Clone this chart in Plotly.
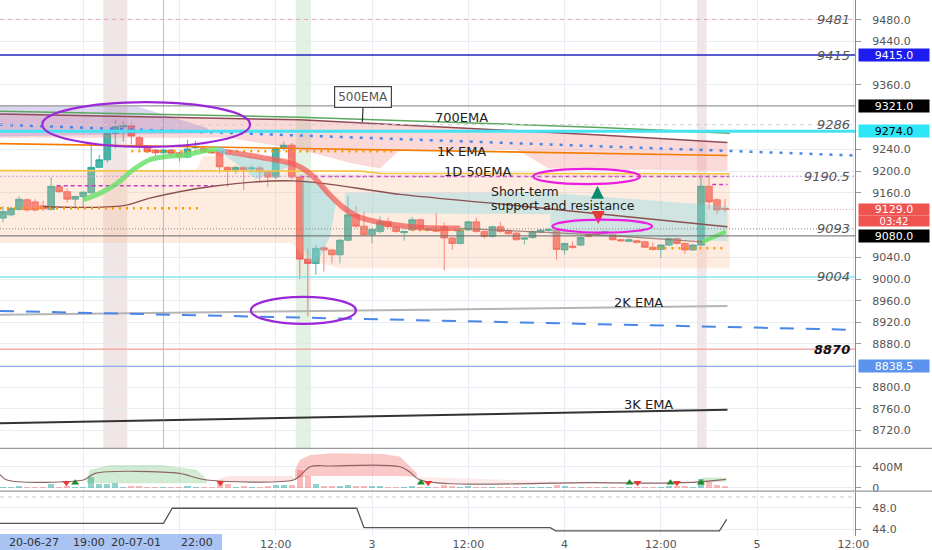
import pandas as pd
import plotly.graph_objects as go

# ---------------- data ----------------
first_bar = "2020-07-01 02:00"          # hourly BTC candles
bar_open = [9113, 9119, 9129, 9147, 9143, 9136, 9129, 9171, 9162, 9148, 9153, 9160, 9207, 9221, 9270, 9282,
            9284, 9262, 9246, 9239, 9234, 9239, 9234, 9226, 9243, 9242, 9236, 9236, 9207, 9202, 9207, 9204,
            9206, 9199, 9189, 9242, 9248, 9189, 9037, 9029, 9058, 9054, 9045, 9072, 9119, 9098, 9082, 9088,
            9106, 9096, 9086, 9091, 9110, 9091, 9091, 9097, 9076, 9066, 9091, 9106, 9088, 9079, 9097, 9090,
            9085, 9074, 9077, 9087, 9090, 9091, 9054, 9061, 9063, 9083, 9086, 9085, 9082, 9073, 9070, 9071,
            9069, 9059, 9055, 9063, 9075, 9066, 9054, 9063, 9172, 9147, 9131]
bar_high = [9135, 9135, 9153, 9150, 9148, 9145, 9189, 9174, 9168, 9155, 9162, 9252, 9230, 9276, 9295, 9292,
            9290, 9265, 9248, 9241, 9241, 9241, 9236, 9258, 9256, 9245, 9238, 9238, 9209, 9210, 9209, 9212,
            9210, 9201, 9245, 9255, 9252, 9190, 9057, 9063, 9062, 9056, 9074, 9154, 9135, 9125, 9095, 9116,
            9114, 9098, 9090, 9115, 9112, 9095, 9122, 9105, 9078, 9093, 9108, 9114, 9090, 9099, 9106, 9092,
            9087, 9078, 9090, 9093, 9094, 9093, 9068, 9070, 9079, 9086, 9088, 9090, 9084, 9075, 9076, 9073,
            9071, 9068, 9065, 9077, 9077, 9068, 9065, 9193, 9193, 9149, 9148]
bar_low = [9105, 9116, 9127, 9125, 9125, 9126, 9127, 9160, 9142, 9130, 9131, 9158, 9205, 9216, 9242, 9255,
           9250, 9240, 9233, 9227, 9232, 9226, 9218, 9224, 9241, 9234, 9232, 9196, 9171, 9195, 9165, 9198,
           9181, 9171, 9185, 9238, 9185, 9000, 8931, 9008, 9014, 9029, 9029, 9070, 9095, 9080, 9066, 9085,
           9095, 9086, 9071, 9089, 9092, 9089, 9087, 9016, 9054, 9064, 9089, 9086, 9075, 9077, 9086, 9082,
           9071, 9064, 9075, 9085, 9088, 9036, 9045, 9056, 9061, 9077, 9081, 9083, 9071, 9069, 9068, 9066,
           9057, 9053, 9039, 9061, 9064, 9047, 9052, 9061, 9129, 9120, 9124]
bar_close = [9125, 9131, 9148, 9128, 9128, 9130, 9172, 9162, 9148, 9153, 9161, 9207, 9221, 9270, 9282, 9285,
             9265, 9246, 9236, 9234, 9239, 9233, 9227, 9241, 9246, 9236, 9234, 9208, 9202, 9207, 9203, 9206,
             9199, 9189, 9242, 9248, 9189, 9037, 9029, 9057, 9054, 9045, 9072, 9119, 9098, 9082, 9092, 9106,
             9097, 9088, 9088, 9110, 9094, 9093, 9089, 9076, 9066, 9091, 9106, 9088, 9079, 9097, 9088, 9084,
             9073, 9076, 9088, 9091, 9092, 9055, 9066, 9059, 9077, 9079, 9083, 9088, 9073, 9071, 9073, 9068,
             9059, 9055, 9063, 9075, 9066, 9054, 9063, 9172, 9143, 9128, 9129]
volume_m = [30, 25, 40, 30, 25, 30, 80, 30, 35, 25, 30, 213, 76, 76, 95, 30, 40, 35, 30, 25, 30, 25, 30, 40,
            30, 25, 20, 95, 85, 30, 40, 25, 30, 35, 70, 60, 60, 350, 223, 84, 45, 40, 45, 60, 50, 40, 35, 40,
            30, 25, 30, 35, 30, 20, 30, 60, 40, 30, 35, 30, 25, 30, 25, 20, 30, 20, 25, 20, 20, 60, 35, 25,
            30, 25, 20, 25, 30, 20, 20, 25, 30, 25, 30, 40, 35, 40, 30, 180, 110, 60, 40]

last_price = 9129.0
countdown = "03:42"

# horizontal levels drawn on the chart
level_prices = [9481, 9415, 9321, 9286, 9274, 9190.5, 9093, 9080, 9004, 8870, 8838.5]
level_text = ["9481", "9415", "", "9286", "", "9190.5", "9093", "", "9004", "8870", ""]
tag_prices = [9415.0, 9321.0, 9274.0, 9080.0, 8838.5]
axis_ticks = [9480, 9440, 9360, 9240, 9200, 9160, 9040, 9000, 8960, 8920, 8880, 8800, 8760, 8720]

# moving averages / trend lines: hours after the first bar, price
ema700_h = [-0.37, 37, 74.4, 90.6];        ema700_p = [9311, 9300, 9281, 9270]
ema500_h = [-0.37, 37, 74.4, 90.3];        ema500_p = [9306, 9295, 9267, 9253]
ema1k_h = [-0.37, 90.3];                   ema1k_p = [9251, 9229]
ema2k_h = [-0.37, 90.3];                   ema2k_p = [8934, 8950]
ema3k_h = [-0.37, 90.3];                   ema3k_p = [8733, 8758]
d1ema50_h = [-0.37, 44.5, 47, 90.6];       d1ema50_p = [9201, 9200, 9196, 9195]
trend_hi_h = [-0.37, 106.2];               trend_hi_p = [9286, 9229]
trend_lo_h = [-0.37, 106.2];               trend_lo_p = [8941, 8906]
slow_ma_h = [5, 15, 18.3, 26.2, 36.2, 49.5, 62, 90.3]
slow_ma_p = [9134, 9136, 9150, 9172, 9182, 9157, 9139, 9097]

rib_up1_h = [10, 12.1, 14.2, 16.2, 18.3, 20.4, 22.9, 24.6, 26.7]
rib_up1_p = [9147, 9159, 9177, 9202, 9221, 9227, 9230, 9236, 9241]
rib_mid_h = [26.7, 27.7]; rib_mid_p = [9241, 9236]
rib_dn_h = [27.7, 32, 36.4, 38.3, 39.3, 40.8, 42.3, 43.9, 45.4, 50.7, 57]
rib_dn_p = [9236, 9226, 9212, 9195, 9180, 9155, 9134, 9118, 9110, 9097, 9094]
rib_flat_h = [57, 68.2, 74.4, 87.2]; rib_flat_p = [9094, 9086, 9082, 9069]
rib_up2_h = [87.2, 88.7, 90.1]; rib_up2_p = [9069, 9078, 9088]

# dotted step levels
step_orange = [([-0.37, 24.6], 9131), ([16, 49], 9237), ([51, 58], 9091), ([80.7, 90.3], 9057)]
step_magenta = [([6.7, 26.2], 9173), ([37, 90.6], 9190), ([88.4, 90.3], 9175)]

# shaded zones (hours, price)
zone_peach_h = [-0.37, 24, 25, 36, 37, 90.6, 90.6, 42, 38, 36, -0.37]
zone_peach_p = [9198, 9200, 9228, 9225, 9195, 9195, 9020, 9020, 9035, 9067, 9067]
zone_pink_h = [-0.37, 37, 74.4, 90.3, 90.3, 68, 64, 49.5, 47, 43.3, 37, 28, -0.37]
zone_pink_p = [9306, 9295, 9267, 9253, 9200, 9205, 9240, 9240, 9205, 9215, 9240, 9262, 9262]
zone_lav_h = [-0.37, 16.6, 25.5, 25.5, -0.37]
zone_lav_p = [9322, 9320, 9280, 9270, 9264]
zone_teal1_h = [26.7, 36.4, 31.5, 29]
zone_teal1_p = [9238, 9212, 9185, 9215]
zone_teal2_h = [37.2, 39.5, 41.5, 40.8, 39.5, 38.5, 37.4]
zone_teal2_p = [9185, 9178, 9140, 9080, 9040, 9030, 9060]
zone_teal3_h = [42.6, 68.2, 90.3, 90.3, 68.2, 68.2, 42.6]
zone_teal3_p = [9160, 9160, 9135, 9070, 9082, 9120, 9122]

# highlighted time windows (hours)
band_red = [(12.5, 15.5), (86.5, 87.7)]
band_green = [(36.5, 38.4)]
crosshair_h = 20

# hand-drawn marks
ellipses = [((4.9, 30.8), (9245, 9328), "#9b27d6"),
            ((30.9, 44.0), (8917, 8967), "#9b27d6"),
            ((66.1, 79.4), (9176, 9204), "#ea1ee0"),
            ((68.5, 80.9), (9086, 9110), "#ea1ee0")]
arrow_up = (74.1, 9173)
arrow_dn = (74.2, 9102)

labels = [("700EMA", 57.1, 9300), ("1K EMA", 57.1, 9237), ("1D 50EMA", 59.2, 9200),
          ("2K EMA", 79.2, 8957), ("3K EMA", 80.4, 8767)]
note_lines = [("Short-term", 60.6, 9161.5), ("support and resistance", 60.6, 9135.5)]
callout = ("500EMA", 44.8, 9291)

# volume pane
vol_ma_h = [-0.37, 0.5, 10, 10.5, 11.5, 22, 23.3, 25.4, 36.2, 37, 38.3, 40.8, 49.5, 50.7, 52, 73.7, 84.8, 90.1]
vol_ma_v = [250, 147, 147, 185, 274, 274, 223, 147, 147, 223, 400, 413, 400, 300, 147, 95, 95, 160]
vband_green_h = [10.4, 10.8, 13.3, 19.6, 22.9, 24.2, 25.4, 25.4, 10.4]
vband_green_v = [150, 337, 432, 432, 370, 337, 160, 84, 84]
vband_red1_h = [26.7, 28, 36.2, 36.2, 26.7]
vband_red1_v = [150, 223, 223, 115, 115]
vband_red2_h = [36.4, 37, 38.3, 41.1, 47.4, 49.5, 51.6, 51.6, 49.5, 38.3, 36.4]
vband_red2_v = [337, 527, 623, 655, 642, 590, 274, 210, 223, 223, 180]
vband_red3_h = [51.6, 73.7, 73.7, 51.6]
vband_red3_v = [210, 100, 90, 84]
vband_green2_h = [86.6, 87.5, 90.2, 90.2, 86.6]
vband_green2_v = [150, 198, 190, 120, 95]
sig_sell_h = [7.9, 27.1, 53, 79.1, 84]
sig_buy_h = [9, 52.1, 78.1, 83.2, 87]
sig_level = 95

# lower oscillator pane
osc_h = [-0.37, 20, 21.1, 44.1, 45, 68.2, 68.9, 89.3, 90.2]
osc_v = [45.1, 45.1, 47.9, 47.9, 44.3, 44.3, 43.7, 43.7, 45.85]
osc_mid = 50

grid_times = ["2020-07-01 12:00", "2020-07-02 00:00", "2020-07-02 12:00", "2020-07-03 00:00",
              "2020-07-03 12:00", "2020-07-04 00:00", "2020-07-04 12:00", "2020-07-05 00:00",
              "2020-07-05 12:00"]
grid_text = ["", "", "12:00", "3", "12:00", "4", "12:00", "5", "12:00"]
range_label = ["20-06-27", "19:00", "20-07-01", "22:00"]

# ---------------- helpers ----------------
t0 = pd.Timestamp(first_bar)


def at(hours):
    return [(t0 + pd.Timedelta(hours=float(v))).strftime("%Y-%m-%d %H:%M:%S") for v in hours]


bar_time = at(range(len(bar_open)))
x_range = at([-0.37, 106.2])
FONT = "DejaVu Sans"
UP = "rgba(38,166,154,0.82)"
DN = "rgba(239,83,80,0.78)"

fig = go.Figure()

fig.add_trace(go.Candlestick(
    x=bar_time, open=bar_open, high=bar_high, low=bar_low, close=bar_close,
    increasing=dict(line=dict(color=UP, width=1), fillcolor=UP),
    decreasing=dict(line=dict(color=DN, width=1), fillcolor=DN),
    whiskerwidth=0, showlegend=False, hoverinfo="skip", xaxis="x", yaxis="y"))


def poly(h, v, color, xa="x", ya="y", scale=1.0):
    fig.add_trace(go.Scatter(x=at(h), y=[p * scale for p in v], fill="toself", fillcolor=color,
                             mode="lines", line=dict(width=0), hoverinfo="skip", showlegend=False,
                             xaxis=xa, yaxis=ya))


def line(h, v, color, width=1.5, dash="solid", xa="x", ya="y", scale=1.0, shape="linear"):
    fig.add_trace(go.Scatter(x=at(h), y=[p * scale for p in v], mode="lines",
                             line=dict(color=color, width=width, dash=dash, shape=shape),
                             hoverinfo="skip", showlegend=False, xaxis=xa, yaxis=ya))


# shaded zones
poly(zone_peach_h, zone_peach_p, "rgba(255,180,130,0.25)")
poly(zone_pink_h, zone_pink_p, "rgba(240,120,120,0.28)")
poly(zone_lav_h, zone_lav_p, "rgba(140,120,210,0.30)")
poly(zone_teal1_h, zone_teal1_p, "rgba(110,215,228,0.40)")
poly(zone_teal2_h, zone_teal2_p, "rgba(110,215,228,0.40)")
poly(zone_teal3_h, zone_teal3_p, "rgba(110,215,228,0.32)")

# averages and trend lines
line(ema700_h, ema700_p, "#5aa85e", 1.5)
line(ema500_h, ema500_p, "#8e4b55", 1.5)
line(ema1k_h, ema1k_p, "#f57c00", 1.6)
line(d1ema50_h, d1ema50_p, "#f9c23c", 1.6)
line(trend_hi_h, trend_hi_p, "#4a86e8", 2.5, "3px,7px")
line(ema2k_h, ema2k_p, "#b5b5b5", 2)
line(trend_lo_h, trend_lo_p, "#4a86e8", 2, "14px,12px")
line(ema3k_h, ema3k_p, "#333333", 2)
line(slow_ma_h, slow_ma_p, "#8a5050", 1.4, shape="spline")
for hh, p in step_orange:
    line(hh, [p, p], "#ff9800", 2.5, "2px,5px")
for hh, p in step_magenta:
    line(hh, [p, p], "#c43bc2", 1.5, "4px,3px")
line([90.5, 106.2], [last_price, last_price], "rgba(239,83,80,0.6)", 1, "1px,2px")

# ribbon
line(rib_up1_h, rib_up1_p, "rgba(110,225,110,0.85)", 5, shape="spline")
line(rib_mid_h, rib_mid_p, "rgba(110,200,210,0.8)", 5)
line(rib_dn_h, rib_dn_p, "rgba(240,90,85,0.72)", 5.5, shape="spline")
line(rib_flat_h, rib_flat_p, "rgba(150,110,100,0.8)", 1.3)
line(rib_up2_h, rib_up2_p, "rgba(110,225,110,0.9)", 4)

# arrows
fig.add_trace(go.Scatter(x=at([arrow_up[0]]), y=[arrow_up[1]], mode="markers",
                         marker=dict(symbol="arrow-up", size=13, color="#0f8a72"),
                         hoverinfo="skip", showlegend=False))
fig.add_trace(go.Scatter(x=at([arrow_dn[0]]), y=[arrow_dn[1]], mode="markers",
                         marker=dict(symbol="arrow-down", size=13, color="#e53935"),
                         hoverinfo="skip", showlegend=False))

# ---- volume pane ----
M = 1e6
poly(vband_green_h, vband_green_v, "rgba(76,175,80,0.25)", "x2", "y2", M)
poly(vband_red1_h, vband_red1_v, "rgba(239,83,80,0.15)", "x2", "y2", M)
poly(vband_red2_h, vband_red2_v, "rgba(239,83,80,0.32)", "x2", "y2", M)
poly(vband_red3_h, vband_red3_v, "rgba(239,83,80,0.12)", "x2", "y2", M)
poly(vband_green2_h, vband_green2_v, "rgba(76,175,80,0.25)", "x2", "y2", M)
vol_colors = ["rgba(38,166,154,0.5)" if c >= o else "rgba(239,83,80,0.4)" for o, c in zip(bar_open, bar_close)]
fig.add_trace(go.Bar(x=bar_time, y=[v * M for v in volume_m], marker=dict(color=vol_colors, line=dict(width=0)),
                     width=0.75 * 3600 * 1000, hoverinfo="skip", showlegend=False, xaxis="x2", yaxis="y2"))
line(vol_ma_h, vol_ma_v, "#8d6464", 1.2, xa="x2", ya="y2", scale=M, shape="spline")
fig.add_trace(go.Scatter(x=at(sig_sell_h), y=[sig_level * M] * len(sig_sell_h), mode="markers",
                         marker=dict(symbol="triangle-down", size=7, color="#e53935"),
                         hoverinfo="skip", showlegend=False, xaxis="x2", yaxis="y2"))
fig.add_trace(go.Scatter(x=at(sig_buy_h), y=[sig_level * M] * len(sig_buy_h), mode="markers",
                         marker=dict(symbol="triangle-up", size=7, color="#1b8a2e"),
                         hoverinfo="skip", showlegend=False, xaxis="x2", yaxis="y2"))

# ---- oscillator pane ----
line(osc_h, osc_v, "#555555", 1.3, xa="x3", ya="y3")

# ---------------- shapes ----------------
shapes = []
for a, b in band_red:
    shapes.append(dict(type="rect", xref="x", yref="y domain", x0=at([a])[0], x1=at([b])[0], y0=0, y1=1,
                       fillcolor="rgba(190,140,140,0.22)", line=dict(width=0), layer="below"))
for a, b in band_green:
    shapes.append(dict(type="rect", xref="x", yref="y domain", x0=at([a])[0], x1=at([b])[0], y0=0, y1=1,
                       fillcolor="rgba(140,200,140,0.25)", line=dict(width=0), layer="below"))
shapes.append(dict(type="line", xref="x", yref="y domain", x0=at([crosshair_h])[0], x1=at([crosshair_h])[0],
                   y0=0, y1=1, line=dict(color="rgba(100,140,230,0.55)", width=1)))

level_style = [("#f3a0b4", 1, "4px,4px"), ("#2222c0", 1.5, "solid"), ("#999999", 1.3, "solid"),
               ("#d0d0d0", 1, "4px,4px"), ("#45e3f2", 3, "solid"), ("#cf9ad8", 1, "2px,2px"),
               ("#888888", 1, "1px,2px"), ("#666666", 1, "solid"), ("#86e3ec", 1.6, "solid"),
               ("#f4a9a9", 1.5, "solid"), ("#6d9eeb", 1, "solid")]
for p, (c, w, d) in zip(level_prices, level_style):
    shapes.append(dict(type="line", xref="x domain", yref="y", x0=0, x1=1, y0=p, y1=p,
                       line=dict(color=c, width=w, dash=d)))

for (h01, p01, c) in ellipses:
    shapes.append(dict(type="circle", xref="x", yref="y", x0=at([h01[0]])[0], x1=at([h01[1]])[0],
                       y0=p01[0], y1=p01[1], line=dict(color=c, width=2.2)))

shapes.append(dict(type="line", xref="x3 domain", yref="y3", x0=0, x1=1, y0=osc_mid, y1=osc_mid,
                   line=dict(color="#c8c8c8", width=1, dash="4px,4px")))
# pane separators (through the price scale too)
for yp in [1 - 448.3 / 536, 1 - 491.2 / 536]:
    shapes.append(dict(type="line", xref="paper", yref="paper", x0=0, x1=932 / 855, y0=yp, y1=yp,
                       line=dict(color="#9a9a9a", width=1.2)))
# blue time-range label box
shapes.append(dict(type="rect", xref="paper", yref="paper", x0=0, x1=222 / 855, y0=-14 / 536, y1=2 / 536,
                   fillcolor="#a9c3f3", line=dict(width=0), layer="above"))

# ---------------- annotations ----------------
ann = []
for p, t in zip(level_prices, level_text):
    if not t:
        continue
    bold = t == "8870"
    ann.append(dict(xref="paper", yref="y", x=0.997, y=p, text=t, showarrow=False, xanchor="right",
                    yanchor="middle", font=dict(family=FONT, size=13, color="#111" if bold else "#555",
                                                style="italic", weight="bold" if bold else "normal")))
tag_style = [("#1c1cf0", "white"), ("#000000", "white"), ("#2de6f6", "black"),
             ("#000000", "white"), ("#5b93ee", "white")]
for p, (bg, fg) in zip(tag_prices, tag_style):
    ann.append(dict(xref="paper", yref="y", x=1.0035, y=p, text=f"{p:.1f}", showarrow=False,
                    xanchor="left", yanchor="middle", width=70, height=12, bgcolor=bg, borderpad=0,
                    font=dict(family=FONT, size=11, color=fg)))
ann.append(dict(xref="paper", yref="y", x=1.0035, y=last_price, text=f"{last_price:.1f}", showarrow=False,
                xanchor="left", yanchor="middle", width=70, height=11, bgcolor="#ef5350", borderpad=0,
                font=dict(family=FONT, size=11, color="white")))
ann.append(dict(xref="paper", yref="y", x=1.0035, y=last_price - 20.5, text=countdown, showarrow=False,
                xanchor="left", yanchor="middle", width=70, height=10, bgcolor="#ef5350", borderpad=0,
                font=dict(family=FONT, size=10, color="white")))

for t, h, p in labels:
    ann.append(dict(xref="x", yref="y", x=at([h])[0], y=p, text=t, showarrow=False,
                    font=dict(family=FONT, size=13, color="#222")))
for t, h, p in note_lines:
    ann.append(dict(xref="x", yref="y", x=at([h])[0], y=p, text=t, showarrow=False,
                    xanchor="left", yanchor="middle", font=dict(family=FONT, size=12.5, color="#222")))
ann.append(dict(xref="x", yref="y", x=at([callout[1]])[0], y=callout[2], text=callout[0], showarrow=True,
                arrowhead=0, arrowwidth=1.2, arrowcolor="#333", ax=1, ay=-25, bgcolor="white",
                bordercolor="#444", borderwidth=1.2, borderpad=3,
                font=dict(family=FONT, size=12, color="#555")))

for t, xp in zip(range_label, [34, 89, 136, 197]):
    ann.append(dict(xref="paper", yref="paper", x=xp / 855, y=-6.5 / 536, text=t, showarrow=False,
                    xanchor="center", yanchor="middle", font=dict(family=FONT, size=11, color="#333")))

GRID = "rgba(225,230,240,0.7)"
ax_common = dict(type="date", range=x_range, tickvals=grid_times, showgrid=True, gridcolor=GRID,
                 zeroline=False, showline=False, ticks="")
yax_common = dict(side="right", showgrid=True, gridcolor=GRID, zeroline=False, showline=True,
                  linecolor="#8a8a8a", linewidth=1, ticks="outside", ticklen=5, tickcolor="#999",
                  ticklabelstandoff=9, tickfont=dict(family=FONT, size=11, color="#555"), fixedrange=True)

fig.update_layout(
    width=932, height=550, margin=dict(l=0, r=77, t=0, b=14),
    paper_bgcolor="white", plot_bgcolor="white", showlegend=False, hovermode=False,
    boxgap=0.12, boxgroupgap=0.05,
    xaxis=dict(ax_common, anchor="y", showticklabels=False, rangeslider=dict(visible=False)),
    xaxis2=dict(ax_common, anchor="y2", matches="x", showticklabels=False),
    xaxis3=dict(ax_common, anchor="y3", matches="x", ticktext=grid_text,
                tickfont=dict(family=FONT, size=11, color="#555")),
    yaxis=dict(yax_common, domain=[1 - 448 / 536, 1], range=[8687.1, 9517], tickvals=axis_ticks,
               tickformat=".1f"),
    yaxis2=dict(yax_common, domain=[1 - 491 / 536, 1 - 448.5 / 536], range=[-63e6, 747e6],
                tickvals=[0, 400e6], ticktext=["0", "400M"]),
    yaxis3=dict(yax_common, domain=[0, 1 - 491.5 / 536], range=[42.76, 51.0], tickvals=[44, 48],
                tickformat=".1f"),
    shapes=shapes, annotations=ann, bargap=0,
)

fig.write_html("out.html", config={"displayModeBar": False},
               post_script="document.body.style.margin='0';document.body.style.overflow='hidden';")
